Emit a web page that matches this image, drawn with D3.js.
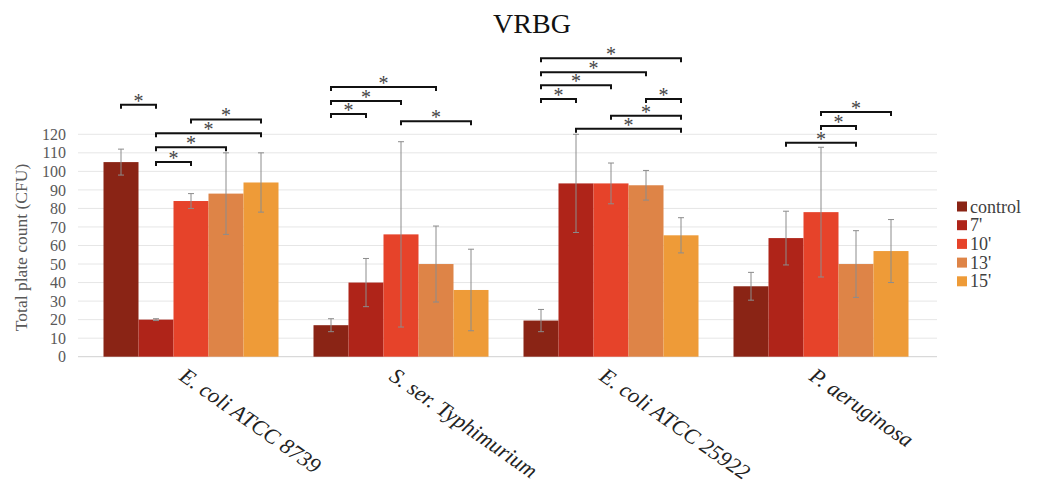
<!DOCTYPE html>
<html>
<head>
<meta charset="utf-8">
<script src="https://cdn.jsdelivr.net/npm/d3@7"></script>
<style>
  body { margin: 0; background: #fff; }
  svg { display: block; font-family: "Liberation Serif", "Times New Roman", serif; }
</style>
</head>
<body>
<div id="chart"></div>
<script>
// categories and series
const categories = ["E. coli ATCC 8739", "S. ser. Typhimurium", "E. coli ATCC 25922", "P. aeruginosa"];
const series = ["control", "7'", "10'", "13'", "15'"];
const colors = ["#8a2415", "#af2419", "#e6432a", "#de8447", "#ee9b38"];

// mean values, one array per series (same order as categories)
const controlVals = [105, 17, 19.5, 38];
const min7Vals = [20, 40, 93.5, 64];
const min10Vals = [84, 66, 93.5, 78];
const min13Vals = [88, 50, 92.5, 50];
const min15Vals = [94, 36, 65.5, 57];

// error (+/-) per series
const controlErr = [7, 3.5, 6, 7.5];
const min7Err = [0.5, 13, 26.5, 14.5];
const min10Err = [4, 50, 11, 35];
const min13Err = [22, 20.5, 8, 18];
const min15Err = [16, 22, 9.5, 17];

const yTicks = [0, 10, 20, 30, 40, 50, 60, 70, 80, 90, 100, 110, 120];

// significance brackets: [category, from series, to series, height in CFU]
const brackets = [
  [0, 0, 1, 136], [0, 1, 2, 105], [0, 1, 3, 113], [0, 1, 4, 120.5], [0, 2, 4, 128],
  [1, 0, 1, 131], [1, 0, 2, 138], [1, 0, 3, 145.5], [1, 2, 4, 127],
  [2, 0, 4, 161], [2, 0, 3, 153.5], [2, 0, 2, 146.5], [2, 0, 1, 139], [2, 3, 4, 139], [2, 2, 4, 130], [2, 1, 4, 123],
  [3, 2, 4, 132], [3, 2, 3, 124.5], [3, 1, 3, 115.5]
];

const values = [controlVals, min7Vals, min10Vals, min13Vals, min15Vals];
const errors = [controlErr, min7Err, min10Err, min13Err, min15Err];

const width = 1038, height = 488;

const svg = d3.select('#chart').append('svg')
  .attr('width', width)
  .attr('height', height);

const x0 = d3.scaleBand()
  .domain(d3.range(categories.length))
  .range([86, 926])
  .paddingInner(1 / 6)
  .paddingOuter(1 / 12);

const x1 = d3.scaleBand()
  .domain(d3.range(series.length))
  .range([0, x0.bandwidth()]);

const y = d3.scaleLinear()
  .domain([0, 120])
  .range([356.7, 134.3]);

// title
svg.append('text')
  .attr('x', 532).attr('y', 33)
  .attr('text-anchor', 'middle')
  .attr('font-size', 28)
  .attr('fill', '#111')
  .text('VRBG');

// gridlines
svg.append('g')
  .selectAll('line')
  .data(yTicks)
  .join('line')
  .attr('x1', 78).attr('x2', 937)
  .attr('y1', d => y(d)).attr('y2', d => y(d))
  .attr('stroke', d => d === 0 ? '#d0d0d0' : '#e6e6e6')
  .attr('stroke-width', 1);

// y axis (labels only)
const yAxis = d3.axisLeft(y).tickValues(yTicks).tickSize(0).tickPadding(0);
const yg = svg.append('g').attr('transform', 'translate(66,0)').call(yAxis);
yg.attr('font-family', null);
yg.select('.domain').remove();
yg.selectAll('text')
  .attr('font-size', 16)
  .attr('fill', '#595959');

svg.append('text')
  .attr('transform', `translate(27,${(y(0) + y(120)) / 2 + 2}) rotate(-90)`)
  .attr('text-anchor', 'middle')
  .attr('font-size', 17.5)
  .attr('fill', '#595959')
  .text('Total plate count (CFU)');

// bars
const groups = svg.append('g')
  .selectAll('g')
  .data(categories)
  .join('g')
  .attr('transform', (d, i) => `translate(${x0(i)},0)`);

groups.selectAll('rect')
  .data((d, ci) => series.map((s, si) => ({ si, v: values[si][ci], e: errors[si][ci] })))
  .join('rect')
  .attr('x', d => x1(d.si))
  .attr('y', d => y(d.v))
  .attr('width', x1.bandwidth())
  .attr('height', d => y(0) - y(d.v))
  .attr('fill', d => colors[d.si]);

// error bars
const err = groups.selectAll('g.err')
  .data((d, ci) => series.map((s, si) => ({ si, v: values[si][ci], e: errors[si][ci] })))
  .join('g')
  .attr('class', 'err')
  .attr('transform', d => `translate(${x1(d.si) + x1.bandwidth() / 2},0)`)
  .attr('stroke', '#8c8c8c')
  .attr('stroke-width', 1);
err.append('line')
  .attr('y1', d => y(d.v - d.e)).attr('y2', d => y(d.v + d.e));
err.append('line')
  .attr('x1', -3).attr('x2', 3)
  .attr('y1', d => y(d.v + d.e)).attr('y2', d => y(d.v + d.e));
err.append('line')
  .attr('x1', -3).attr('x2', 3)
  .attr('y1', d => y(d.v - d.e)).attr('y2', d => y(d.v - d.e));

// significance brackets
const cx = (ci, si) => x0(ci) + x1(si) + x1.bandwidth() / 2;
const br = svg.append('g')
  .selectAll('g')
  .data(brackets)
  .join('g');
br.append('path')
  .attr('d', d => {
    const a = cx(d[0], d[1]), b = cx(d[0], d[2]), h = y(d[3]);
    return `M${a},${h + 4}V${h}H${b}V${h + 4}`;
  })
  .attr('fill', 'none')
  .attr('stroke', '#111')
  .attr('stroke-width', 2);
br.append('text')
  .attr('x', d => (cx(d[0], d[1]) + cx(d[0], d[2])) / 2)
  .attr('y', d => y(d[3]) + 3)
  .attr('text-anchor', 'middle')
  .attr('font-size', 20)
  .attr('fill', '#444')
  .text('*');

// category labels
svg.append('g')
  .selectAll('text')
  .data(categories)
  .join('text')
  .attr('transform', (d, i) => `translate(${x0(i) + x0.bandwidth() / 2 - 13},379) rotate(35)`)
  .attr('font-size', 22)
  .attr('font-style', 'italic')
  .attr('fill', '#222')
  .text(d => d);

// legend
const legend = svg.append('g')
  .selectAll('g')
  .data(series)
  .join('g')
  .attr('transform', (d, i) => `translate(957,${206.5 + i * 18.7})`);
legend.append('rect')
  .attr('x', 0).attr('y', -5)
  .attr('width', 10).attr('height', 10)
  .attr('fill', (d, i) => colors[i]);
legend.append('text')
  .attr('x', 13).attr('y', 6)
  .attr('font-size', 18)
  .attr('fill', '#404040')
  .text(d => d);
</script>
</body>
</html>
